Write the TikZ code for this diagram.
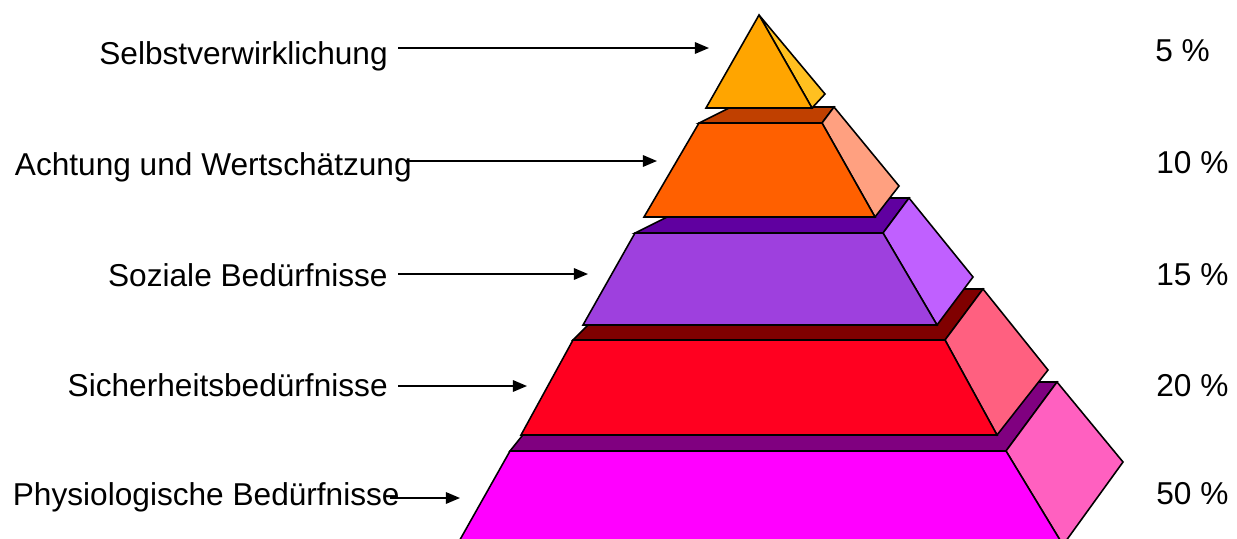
\documentclass[tikz,border=0pt]{standalone}
\usepackage{fontspec}
\setmainfont{Liberation Sans}
\usetikzlibrary{arrows.meta}

\definecolor{gelbF}{RGB}{255,165,0}
\definecolor{gelbS}{RGB}{255,192,32}
\definecolor{orangeF}{RGB}{255,96,0}
\definecolor{orangeT}{RGB}{192,64,0}
\definecolor{orangeS}{RGB}{255,160,128}
\definecolor{lilaF}{RGB}{158,64,222}
\definecolor{lilaT}{RGB}{96,0,160}
\definecolor{lilaS}{RGB}{192,96,255}
\definecolor{rotF}{RGB}{255,0,32}
\definecolor{rotT}{RGB}{128,0,0}
\definecolor{rotS}{RGB}{255,96,128}
\definecolor{magF}{RGB}{255,0,255}
\definecolor{magT}{RGB}{128,0,128}
\definecolor{magS}{RGB}{255,96,192}

\begin{document}
\begin{tikzpicture}[x=0.02cm,y=-0.02cm,
    face/.style={draw=black,line width=0.9pt,line join=miter},
    lbl/.style={anchor=base east,inner sep=0pt,font=\fontsize{18}{20}\selectfont},
    pct/.style={anchor=base west,inner sep=0pt,font=\fontsize{18}{20}\selectfont},
    pfeil/.style={line width=1pt,-{Triangle[length=8pt,width=6.5pt]}}]
\useasboundingbox (0,0) rectangle (1237,538);

% Physiologische Beduerfnisse (unten abgeschnitten)
\begin{scope}
\clip (0,0) rectangle (1237,538);
\draw [face,fill=magT] (510,451) -- (1006,451) -- (1057,382) -- (565,382) -- cycle;
\draw [face,fill=magS] (1006,451) -- (1057,382) -- (1123,462) -- (1063,545) -- cycle;
\draw [face,fill=magF] (510,451) -- (1006,451) -- (1063,545) -- (457,545) -- cycle;
\end{scope}

% Sicherheitsbeduerfnisse
\draw [face,fill=rotT] (573,340) -- (945,340) -- (983,289) -- (624,289) -- cycle;
\draw [face,fill=rotS] (945,340) -- (983,289) -- (1048,370) -- (997,435) -- cycle;
\draw [face,fill=rotF] (573,340) -- (945,340) -- (997,435) -- (521,435) -- cycle;

% Soziale Beduerfnisse
\draw [face,fill=lilaT] (635,233) -- (883,233) -- (909,198) -- (705,198) -- cycle;
\draw [face,fill=lilaS] (883,233) -- (909,198) -- (973,277) -- (937,325) -- cycle;
\draw [face,fill=lilaF] (635,233) -- (883,233) -- (937,325) -- (583,325) -- cycle;

% Achtung und Wertschaetzung
\draw [face,fill=orangeT] (699,123) -- (822,123) -- (834,107) -- (731,107) -- cycle;
\draw [face,fill=orangeS] (822,123) -- (834,107) -- (899,186) -- (875,217) -- cycle;
\draw [face,fill=orangeF] (699,123) -- (822,123) -- (875,217) -- (644,217) -- cycle;

% Spitze
\draw [face,fill=gelbS] (759,15) -- (812,108) -- (825,94) -- cycle;
\draw [face,fill=gelbF] (759,15) -- (706,108) -- (812,108) -- cycle;

% Beschriftung links
\node [lbl] (selbst) at (388,64) {Selbstverwirklichung};
\node [lbl] (achtung) at (412,175) {Achtung und Wertschätzung};
\node [lbl] (sozial) at (388,286) {Soziale Bedürfnisse};
\node [lbl] (sicher) at (388,396) {Sicherheitsbedürfnisse};
\node [lbl] (physio) at (400,505) {Physiologische Bedürfnisse};

% Pfeile
\coordinate (s1) at (398,48);  \coordinate (t1) at (709,48);
\coordinate (s2) at (405,161); \coordinate (t2) at (657,161);
\coordinate (s3) at (398,274); \coordinate (t3) at (588,274);
\coordinate (s4) at (398,386); \coordinate (t4) at (527,386);
\coordinate (s5) at (390,498); \coordinate (t5) at (460,498);
\foreach \i in {1,...,5}
    \draw [pfeil] (s\i) -- (t\i);

% Prozente
\node [pct] (p5) at (1155,61) {5 \%};
\node [pct] (p10) at (1156,173) {10 \%};
\node [pct] (p15) at (1156,285) {15 \%};
\node [pct] (p20) at (1156,396) {20 \%};
\node [pct] (p50) at (1156,504) {50 \%};
\end{tikzpicture}
\end{document}
